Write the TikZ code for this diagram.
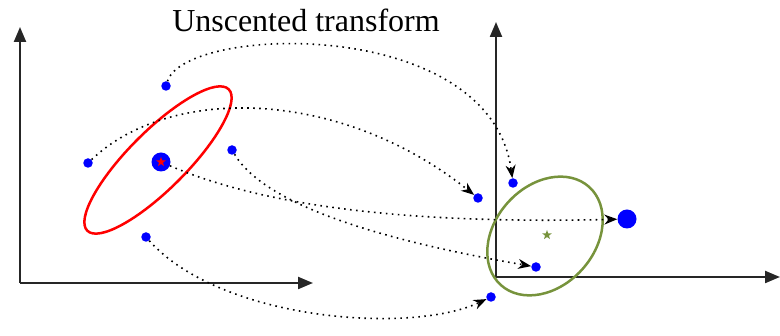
\documentclass[tikz,border=0pt]{standalone}
\usepackage{fontspec}
\setmainfont{Liberation Serif}
\usetikzlibrary{arrows.meta,shapes.geometric}
\definecolor{ukfgreen}{RGB}{119,147,60}

\begin{document}
\begin{tikzpicture}[x=1pt, y=-1pt, >={Stealth[length=13pt,width=10pt]},
  sdot/.style={circle, fill=blue, inner sep=0pt, minimum size=9.5pt},
  mdot/.style={circle, fill=blue, inner sep=0pt, minimum size=19pt},
  link/.style={->, line width=1.6pt, dash pattern=on 1.6pt off 4.4pt},
  axis/.style={-{Triangle[length=15pt,width=12pt]}, line width=2.2pt, black!85}]
  \useasboundingbox (0,0) rectangle (780,336);
  \coordinate (o1) at (20,283);
  \coordinate (x1) at (313,283);
  \coordinate (y1) at (20,27);
  \coordinate (o2) at (496,277);
  \coordinate (x2) at (780,277);
  \coordinate (y2) at (496,22);
  \draw[axis] (o1)--(x1);
  \draw[axis] (o1)--(y1);
  \draw[axis] (o2)--(x2);
  \draw[axis] (o2)--(y2);
  \node[font=\fontsize{32}{38}\selectfont, anchor=base] (title) at (306,32) {Unscented transform};
  \node[draw=red, line width=2.5pt, ellipse, inner sep=0pt, minimum width=200pt, minimum height=58pt, rotate=45] (cov) at (158,160) {};
  \node[draw=ukfgreen, line width=2.5pt, ellipse, inner sep=0pt, minimum width=132pt, minimum height=100pt, rotate=48] (covt) at (545,236) {};
  \node[sdot] (p1) at (166,86) {};
  \node[sdot] (p2) at (88,163) {};
  \node[mdot] (p0) at (161,162) {};
  \node[sdot] (p3) at (232,150) {};
  \node[sdot] (p4) at (146,237) {};
  \node[star, star points=5, star point ratio=2.4, fill=red, inner sep=0pt, minimum size=10pt] (mean) at (161,162) {};
  \node[sdot] (q1) at (513,183) {};
  \node[sdot] (q2) at (478,198) {};
  \node[mdot] (q0) at (627,219) {};
  \node[sdot] (q3) at (536,267) {};
  \node[sdot] (q4) at (491,297) {};
  \node[star, star points=5, star point ratio=2.4, fill=ukfgreen, inner sep=0pt, minimum size=10pt] (meant) at (547,235) {};
  \draw[link] (p1) .. controls (185,25) and (490,15) .. (q1);
  \draw[link] (p2) .. controls (170,85) and (340,88) .. (q2);
  \draw[link] (p0) .. controls (250,200) and (380,225) .. (q0);
  \draw[link] (p3) .. controls (265,205) and (380,240) .. (q3);
  \draw[link] (p4) .. controls (220,320) and (410,335) .. (q4);
\end{tikzpicture}
\end{document}
